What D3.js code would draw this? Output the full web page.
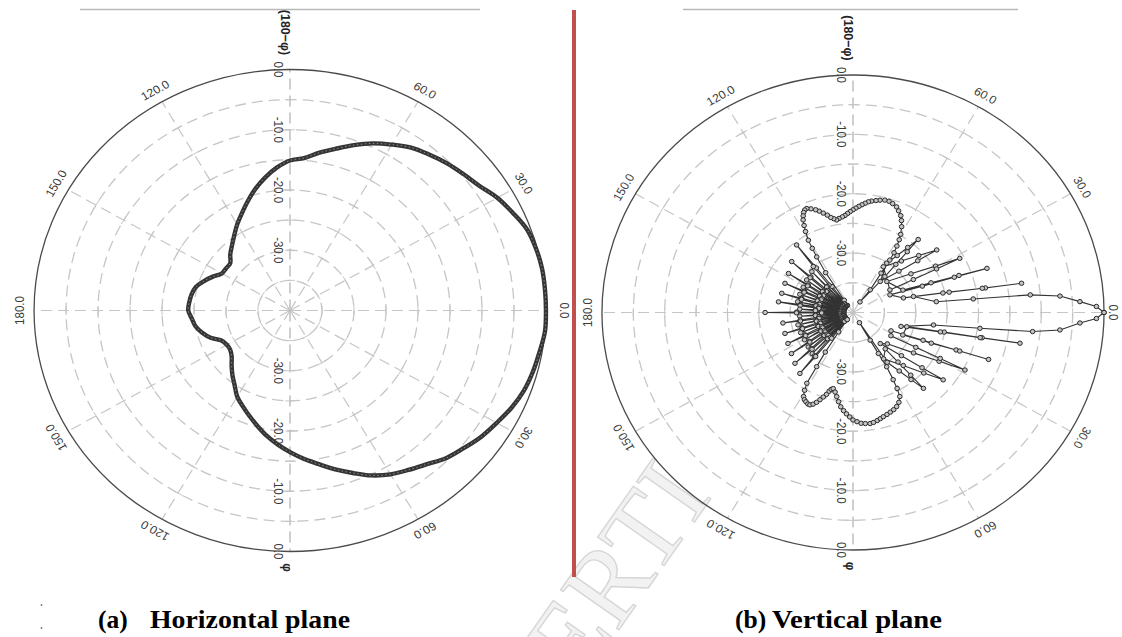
<!DOCTYPE html>
<html><head><meta charset="utf-8">
<script src="https://cdn.jsdelivr.net/npm/d3@7/dist/d3.min.js"></script>
<style>body{margin:0;background:#fff;}svg{display:block;}</style>
</head><body>
<svg id="c" width="1122" height="637"></svg>
<script>
// ---------------- DATA ----------------
const ringLevels = [-35, -30, -25, -20, -15, -10, -5, 0];          // dB rings
const radialTickValues = [0, -10, -20, -30];
const radialTickLabels = ["0.0", "-10.0", "-20.0", "-30.0"];
const spokeAngles = [0, 30, 60, 90, 120, 150, 180, 210, 240, 270, 300, 330];
const angleLabelAngles = [0, 30, 60, 120, 150, 180, 210, 240, 300, 330];
const angleLabelTexts = ["0.0", "30.0", "60.0", "120.0", "150.0", "180.0", "150.0", "120.0", "60.0", "30.0"];
const topAxisLabel = "(180\u2212\u03c6)";
const bottomAxisLabel = "\u03c6";
const captionA = ["(a)", "Horizontal plane"];
const captionB = ["(b)", "Vertical plane"];
const watermarkText = "ERTI";

// (a) horizontal plane: [angle deg, gain dB]
const hUpper = [[0,0],[5,0],[10,0],[15,-0.2],[20,-0.6],[25,-1.6],[30,-2.6],[35,-3.9],[40,-4.7],[45,-5.4],[50,-6.2],[55,-7.0],[60,-8.2],[65,-9.4],[70,-10.8],[75,-12.2],[80,-13.4],[85,-14.6],[90,-15.1],[95,-16.2],[100,-17.6],[105,-19.1],[110,-20.7],[115,-22.2],[120,-23.5],[125,-24.8],[130,-25.9],[135,-26.8],[140,-27.8],[145,-27.8],[150,-27.7],[155,-26.7],[160,-25.7],[165,-24.8],[170,-24.4],[175,-24.2],[180,-24.1]];
const hLower = [[185,-24.6],[190,-25.0],[195,-25.8],[200,-26.8],[205,-28.2],[210,-28.6],[215,-28.6],[220,-28.1],[225,-27.1],[230,-26.0],[235,-24.9],[240,-23.5],[245,-22.5],[250,-21.4],[255,-20.2],[260,-18.9],[265,-17.7],[270,-16.5],[275,-15.3],[280,-14.1],[285,-12.7],[290,-11.3],[295,-9.8],[300,-8.6],[305,-7.7],[310,-6.7],[315,-5.4],[320,-4.5],[325,-3.5],[330,-2.7],[335,-1.8],[340,-1.1],[345,-0.7],[350,-0.4],[355,0.0]];

// (b) vertical plane: [angle deg, gain dB], traced in drawing order
const vMainUpper = [[0,0],[1.5,-1.2],[2.9,-3.8],[4.8,-6.9],[6.0,-11.6],[6.8,-20.7],[7.8,-26.6]];
const vSideUpper = [
  [15.6,-30.0],[12.6,-24.3],[11.1,-18.5],[10.4,-12.7],[11.2,-19.0],[12.9,-25.3],[17.0,-31.6],
  [26.7,-33.4],[21.9,-28.1],[20.2,-22.8],[19.2,-17.4],[20.3,-22.0],[21.9,-26.6],[25.4,-31.2],
  [44.1,-32.5],[35.2,-28.7],[30.7,-24.7],[28.2,-20.7],[28.9,-24.8],[30.0,-28.9],[32.9,-33.0],
  [57.9,-30.9],[48.4,-28.4],[42.5,-25.8],[38.3,-23.0],[40.2,-26.5],[43.6,-29.9],[50.3,-33.2],
  [57.1,-30.1],[53.7,-28.1],[51.5,-26.0],[49.8,-23.9],[49.8,-26.6],[49.9,-29.4],[50.0,-32.1]];
const vHeartUpper = [[58,-37.9],[54.3,-35.3],[56,-32.0],[56.4,-29.4],[57,-28.0],[58,-26.8],[59,-25.7],[60,-24.8],[61.8,-23.6],[63.5,-22.7],[65,-22.0],[67,-21.4],[68.7,-20.9],[71,-20.6],[73,-20.4],[75,-20.4],[77.2,-20.6],[79,-20.8],[81,-21.0],[82.5,-21.2],[84,-21.5],[85.5,-21.8],[87,-22.1],[88.5,-22.4],[90,-22.7],[91.5,-23.0],[93,-23.3],[94.5,-23.6],[96,-23.8],[98,-24.0],[99.5,-24.2],[101,-23.9],[102.5,-23.6],[104,-23.1],[105.8,-22.6],[107.5,-22.1],[109,-21.7],[111,-21.3],[112.8,-21.0],[114,-21.1],[115,-21.4],[116,-21.9],[117,-22.5],[118,-23.4],[119,-24.4],[120.3,-25.9],[121,-27.4],[121.7,-29.0],[123,-32.0],[124,-37.5]];
const vBackLobes = [
  [126.5,-38.5],[127.3,-34.5],[127.8,-30.5],[128.3,-25.5],[129.2,-30.0],[129.8,-34.0],[130.5,-38.5],
  [132.5,-38],[133.2,-34],[133.6,-30.5],[134.4,-34],[135,-38],
  [137,-38.5],[137.7,-34.5],[138.2,-31.0],[138.7,-27.0],[139.5,-31.0],[140.2,-34.5],[141,-38.5],
  [142.4,-38],[143,-34],[143.4,-30.8],[144.2,-34],[144.8,-38],
  [145.8,-38.5],[146.5,-34.5],[147,-31.5],[147.4,-27.8],[148.2,-31.5],[148.9,-34.5],[149.7,-38.5],
  [150.8,-38],[151.4,-34],[151.8,-31],[152.6,-34],[153.2,-38],
  [154,-38.5],[154.7,-34.5],[155.2,-31.5],[155.6,-28.1],[156.4,-31.5],[157.1,-34.5],[157.9,-38.5],
  [159.1,-38],[159.7,-34],[160.1,-31],[160.9,-34],[161.5,-38],
  [162.5,-38.5],[163.2,-34.5],[163.7,-31.5],[164.1,-28.2],[164.9,-31.5],[165.6,-34.5],[166.4,-38.5],
  [167.4,-38],[168,-34],[168.4,-31],[169.2,-34],[169.6,-38],
  [169.8,-38.5],[170.5,-34.5],[171,-31.5],[171.4,-28.0],[172.2,-31.5],[172.9,-34.5],[173.7,-38.5],
  [175.2,-38],[175.8,-34],[176.2,-31.5],[177,-34],[177.6,-38],
  [178.5,-38.5],[179.2,-35],[179.6,-31],[180,-26.0],[180.4,-31],[180.8,-35],[181.5,-38.5],
  [183.2,-38],[183.8,-34],[184.2,-31.5],[185,-34],[185.6,-38],
  [186.9,-38.5],[187.8,-34.5],[188.5,-31.5],[189,-28.7],[189.7,-31.5],[190.4,-34.5],[191.2,-38.5],
  [192.4,-38],[193,-34],[193.4,-31],[194.2,-34],[194.8,-38],
  [195.9,-38.5],[196.8,-34.5],[197.5,-31.5],[198,-28.6],[198.7,-31.5],[199.4,-34.5],[200.2,-38.5],
  [201.2,-38],[201.8,-34],[202.2,-31],[203,-34],[203.6,-38],
  [204.6,-38.5],[205.5,-34.5],[206.2,-31.5],[206.7,-28.4],[207.4,-31.5],[208.1,-34.5],[208.9,-38.5],
  [209.8,-38],[210.4,-34],[210.8,-31],[211.6,-34],[212.2,-38],
  [213.1,-38.5],[214,-34.5],[214.7,-31.5],[215.2,-28.0],[215.9,-31.5],[216.6,-34.5],[217.4,-38.5],
  [218.2,-38],[218.8,-34],[219.2,-30.8],[220,-34],[220.5,-38],
  [220.7,-38.5],[221.6,-34.5],[222.3,-31],[222.8,-27.4],[223.5,-31],[224.2,-34.5],[225,-38.5],
  [225.9,-38],[226.5,-34],[226.9,-30.5],[227.7,-34],[228.2,-38],
  [228.4,-38.5],[229.3,-34.5],[230,-30.5],[230.5,-26.7],[231.2,-30.5],[231.9,-34.5],[232.7,-38.5]];
const vHeartLower = [[235,-36],[236.5,-32],[237.6,-29.2],[238.3,-26.0],[239.5,-24.8],[240.9,-23.8],[242.2,-23.4],[243.5,-23.2],[245,-23.0],[246.2,-23.0],[247.6,-23.3],[249,-23.8],[250.3,-24.4],[251.6,-25.0],[253,-25.6],[254,-26.2],[255,-26.6],[256.2,-26.8],[258,-26.3],[259.6,-25.6],[261.3,-24.8],[263,-24.0],[264.8,-23.4],[266.5,-22.9],[268.3,-22.4],[270,-21.9],[272,-21.6],[274,-21.3],[276,-21.2],[278.3,-21.1],[280,-21.2],[282,-21.4],[283.7,-21.6],[285.4,-21.8],[287.5,-22.0],[289.5,-22.2],[291.6,-22.4],[293.7,-22.7],[295.8,-23.2],[297.8,-24.0],[298.8,-25.4],[299.5,-27.0],[300.4,-29.4],[300.4,-32.0],[300.4,-34.6],[301,-38.0]];
const vSideLower = [
  [303,-30.0],[306.8,-27.7],[309.3,-25.4],[311.3,-23.0],[311.1,-26.0],[310.7,-29.0],[310,-32.0],
  [302,-30.8],[311.9,-28.0],[317.9,-24.8],[321.7,-21.7],[319.8,-25.6],[316.7,-29.4],[309.7,-33.2],
  [316,-32.4],[324.8,-28.2],[329.1,-24.0],[331.5,-19.7],[330.9,-24.1],[329.6,-28.4],[327,-32.8],
  [333,-33.2],[337.3,-27.9],[339.0,-22.4],[339.9,-17.0],[339.1,-21.8],[337.5,-26.5],[334.5,-31.2],
  [344.4,-31.1],[347.2,-25.1],[348.3,-19.0],[349.0,-12.9],[348.2,-19.3],[346.8,-25.7],[343,-32.0]];
const vMainLower = [[350.7,-27.0],[352.5,-19.6],[353.6,-11.2],[354.9,-6.9],[357.2,-3.8],[358.5,-1.2],[360,0]];

// ---------------- DRAW ----------------
const svg = d3.select("#c");
const labelFont = "'Liberation Sans', Arial, sans-serif";
const serif = "'Liberation Serif', 'Times New Roman', serif";

// watermark (faint, behind everything)
svg.append("text").text(watermarkText)
  .attr("transform", "translate(579,687) rotate(-55)")
  .attr("font-family", serif).attr("font-size", 108)
  .attr("fill", "#f2f2f2").attr("stroke", "#d6d6d6").attr("stroke-width", 1.4);

function polar(cx, cy, R, sx, zeroLabelR) {
  const g = svg.append("g").attr("transform", `translate(${cx},${cy}) scale(${sx},1)`);
  const r = d3.scaleLinear().domain([-40, 0]).range([0, R]).clamp(true);
  const rad = d3.scaleLinear().domain([0, 360]).range([0, 2 * Math.PI]);
  const gridColor = "#c6c6c6";

  g.selectAll("circle.ring").data(ringLevels.filter(v => v < 0)).join("circle")
    .attr("r", d => r(d)).attr("fill", "none").attr("stroke", gridColor)
    .attr("stroke-width", 1.3).attr("stroke-dasharray", "11 6")
    .attr("vector-effect", "non-scaling-stroke");

  g.selectAll("line.spoke").data(spokeAngles).join("line")
    .attr("x1", 0).attr("y1", 0)
    .attr("x2", d => R * Math.cos(rad(d))).attr("y2", d => -R * Math.sin(rad(d)))
    .attr("stroke", d => (d === 90 || d === 270) ? "#b0b0b0" : gridColor)
    .attr("stroke-width", 1.2).attr("stroke-dasharray", "11 6")
    .attr("vector-effect", "non-scaling-stroke");

  const ticks = [];
  spokeAngles.forEach(a => ringLevels.filter(v => v < 0).forEach(v => ticks.push([a, v])));
  g.selectAll("line.tick").data(ticks).join("line")
    .attr("x1", d => r(d[1]) * Math.cos(rad(d[0])) - 4.5 * Math.sin(rad(d[0])))
    .attr("y1", d => -r(d[1]) * Math.sin(rad(d[0])) - 4.5 * Math.cos(rad(d[0])))
    .attr("x2", d => r(d[1]) * Math.cos(rad(d[0])) + 4.5 * Math.sin(rad(d[0])))
    .attr("y2", d => -r(d[1]) * Math.sin(rad(d[0])) + 4.5 * Math.cos(rad(d[0])))
    .attr("stroke", gridColor).attr("stroke-width", 1)
    .attr("vector-effect", "non-scaling-stroke");

  g.append("circle").attr("r", r(0)).attr("fill", "none")
    .attr("stroke", "#4a4a4a").attr("stroke-width", 1.3)
    .attr("vector-effect", "non-scaling-stroke");

  // angle labels
  const lr = d => (d === 0 ? zeroLabelR : 1.055) * R;
  g.selectAll("text.ang").data(angleLabelAngles).join("text")
    .attr("transform", d => `translate(${lr(d) * Math.cos(rad(d))},${-lr(d) * Math.sin(rad(d))}) rotate(${90 - d})`)
    .attr("text-anchor", "middle").attr("dy", "0.35em")
    .attr("font-family", labelFont).attr("font-size", 11.5).attr("fill", "#3a3a3a")
    .text((d, i) => angleLabelTexts[i]);

  // radial labels along vertical axis (top & bottom)
  const rl = [];
  radialTickValues.forEach((v, i) => { rl.push([v, -1, radialTickLabels[i]]); rl.push([v, 1, radialTickLabels[i]]); });
  g.selectAll("text.rad").data(rl).join("text")
    .attr("transform", d => `translate(${-12 / sx},${d[1] * r(d[0])}) rotate(90)`)
    .attr("text-anchor", "middle").attr("dy", "0.35em")
    .attr("font-family", labelFont).attr("font-size", 11.5).attr("fill", "#3a3a3a")
    .text(d => d[2]);

  g.append("text").text(topAxisLabel)
    .attr("transform", `translate(${-4 / sx},${-R - 37}) rotate(90)`)
    .attr("text-anchor", "middle").attr("dy", "0.35em")
    .attr("font-family", labelFont).attr("font-size", 12.5).attr("font-weight", "bold").attr("fill", "#222");
  g.append("text").text(bottomAxisLabel)
    .attr("transform", `translate(${-3 / sx},${R + 16}) rotate(90)`)
    .attr("text-anchor", "middle").attr("dy", "0.35em")
    .attr("font-family", labelFont).attr("font-size", 12).attr("font-weight", "bold").attr("fill", "#222");

  const line = d3.lineRadial()
    .angle(d => Math.PI / 2 - rad(d[0]))
    .radius(d => r(d[1]));
  return { g, r, rad, line };
}

// ---- (a) horizontal plane
const A = polar(290, 310.5, 241, 1.062, 1.07);
const hData = hUpper.concat(hLower);
A.g.append("path").datum(hData)
  .attr("d", A.line.curve(d3.curveCatmullRomClosed))
  .attr("fill", "none").attr("stroke", "#353535").attr("stroke-width", 4.4)
  .attr("vector-effect", "non-scaling-stroke");
A.g.append("path").datum(hData)
  .attr("d", A.line.curve(d3.curveCatmullRomClosed))
  .attr("fill", "none").attr("stroke", "#8c8c8c").attr("stroke-width", 1)
  .attr("stroke-dasharray", "1.5 2.5")
  .attr("vector-effect", "non-scaling-stroke");

// ---- (b) vertical plane
const B = polar(853, 312.5, 237.5, 1.057, 1.035);
const vData = [].concat(vMainUpper, vSideUpper, vHeartUpper, vBackLobes, vHeartLower, vSideLower, vMainLower);
B.g.append("path").datum(vData)
  .attr("d", B.line.curve(d3.curveLinear))
  .attr("fill", "none").attr("stroke", "#333").attr("stroke-width", 1.1)
  .attr("vector-effect", "non-scaling-stroke");
B.g.selectAll("circle.mk").data(vData).join("circle")
  .attr("cx", d => B.r(d[1]) * Math.cos(B.rad(d[0])))
  .attr("cy", d => -B.r(d[1]) * Math.sin(B.rad(d[0])))
  .attr("r", 2.2).attr("fill", "#c4c4c4").attr("stroke", "#2a2a2a").attr("stroke-width", 1)
  .attr("vector-effect", "non-scaling-stroke");

// top rules
svg.append("line").attr("x1", 80).attr("x2", 480).attr("y1", 9.5).attr("y2", 9.5)
  .attr("stroke", "#b8b8b8").attr("stroke-width", 1.3);
svg.append("line").attr("x1", 683).attr("x2", 1018).attr("y1", 9.5).attr("y2", 9.5)
  .attr("stroke", "#b8b8b8").attr("stroke-width", 1.3);

// red divider
svg.append("line").attr("x1", 574).attr("x2", 574).attr("y1", 10).attr("y2", 577)
  .attr("stroke", "#c0504d").attr("stroke-width", 4);

// stray dots
svg.append("circle").attr("cx", 41.5).attr("cy", 605).attr("r", 0.9).attr("fill", "#777");
svg.append("circle").attr("cx", 41.5).attr("cy", 628).attr("r", 0.9).attr("fill", "#777");

// captions
function caption(x1, x2, w2, parts) {
  svg.append("text").text(parts[0]).attr("x", x1).attr("y", 628)
    .attr("font-family", serif).attr("font-weight", "bold").attr("font-size", 25.5).attr("fill", "#000");
  svg.append("text").text(parts[1]).attr("x", x2).attr("y", 628)
    .attr("textLength", w2).attr("lengthAdjust", "spacingAndGlyphs")
    .attr("font-family", serif).attr("font-weight", "bold").attr("font-size", 25.5).attr("fill", "#000");
}
caption(98, 150, 200, captionA);
caption(735, 772, 170, captionB);
</script>
</body></html>
